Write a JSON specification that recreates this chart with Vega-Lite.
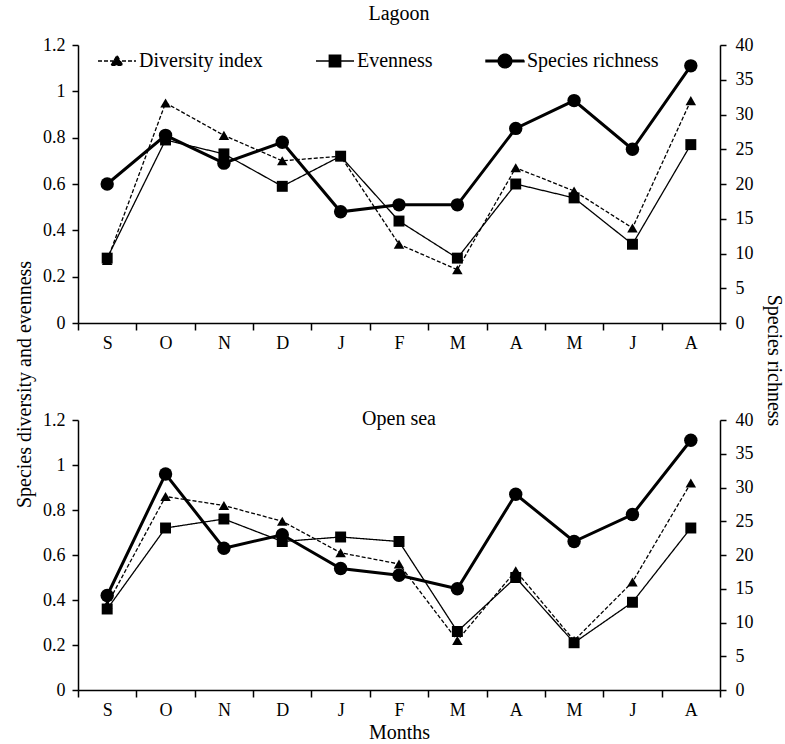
{
  "$schema": "https://vega.github.io/schema/vega-lite/v6.json",
  "background": "white",
  "padding": {"left": 14, "top": 4, "right": 3, "bottom": 0},
  "bounds": "flush",
  "spacing": 97,
  "config": {
    "font": "Liberation Serif",
    "view": {"stroke": null},
    "axis": {
      "grid": false, "domainColor": "black", "tickColor": "black", "labelColor": "black", "titleColor": "black",
      "domainWidth": 1.5, "tickWidth": 1.5, "tickSize": 6,
      "labelFont": "Liberation Serif", "titleFont": "Liberation Serif",
      "labelFontSize": 18, "titleFontSize": 20, "titleFontWeight": "normal", "labelPadding": 7
    },
    "title": {"font": "Liberation Serif", "fontSize": 20, "fontWeight": "normal", "color": "black"},
    "legend": {"labelFont": "Liberation Serif", "labelFontSize": 20, "labelColor": "black"}
  },
  "datasets": {
    "d": [
      {"site": "Lagoon", "month": "Sep", "series": "Diversity index", "value": 0.27},
      {"site": "Lagoon", "month": "Oct", "series": "Diversity index", "value": 0.95},
      {"site": "Lagoon", "month": "Nov", "series": "Diversity index", "value": 0.81},
      {"site": "Lagoon", "month": "Dec", "series": "Diversity index", "value": 0.70},
      {"site": "Lagoon", "month": "Jan", "series": "Diversity index", "value": 0.72},
      {"site": "Lagoon", "month": "Feb", "series": "Diversity index", "value": 0.34},
      {"site": "Lagoon", "month": "Mar", "series": "Diversity index", "value": 0.23},
      {"site": "Lagoon", "month": "Apr", "series": "Diversity index", "value": 0.67},
      {"site": "Lagoon", "month": "May", "series": "Diversity index", "value": 0.57},
      {"site": "Lagoon", "month": "Jun", "series": "Diversity index", "value": 0.41},
      {"site": "Lagoon", "month": "Aug", "series": "Diversity index", "value": 0.96},
      {"site": "Lagoon", "month": "Sep", "series": "Evenness", "value": 0.28},
      {"site": "Lagoon", "month": "Oct", "series": "Evenness", "value": 0.79},
      {"site": "Lagoon", "month": "Nov", "series": "Evenness", "value": 0.73},
      {"site": "Lagoon", "month": "Dec", "series": "Evenness", "value": 0.59},
      {"site": "Lagoon", "month": "Jan", "series": "Evenness", "value": 0.72},
      {"site": "Lagoon", "month": "Feb", "series": "Evenness", "value": 0.44},
      {"site": "Lagoon", "month": "Mar", "series": "Evenness", "value": 0.28},
      {"site": "Lagoon", "month": "Apr", "series": "Evenness", "value": 0.60},
      {"site": "Lagoon", "month": "May", "series": "Evenness", "value": 0.54},
      {"site": "Lagoon", "month": "Jun", "series": "Evenness", "value": 0.34},
      {"site": "Lagoon", "month": "Aug", "series": "Evenness", "value": 0.77},
      {"site": "Lagoon", "month": "Sep", "series": "Species richness", "value": 20},
      {"site": "Lagoon", "month": "Oct", "series": "Species richness", "value": 27},
      {"site": "Lagoon", "month": "Nov", "series": "Species richness", "value": 23},
      {"site": "Lagoon", "month": "Dec", "series": "Species richness", "value": 26},
      {"site": "Lagoon", "month": "Jan", "series": "Species richness", "value": 16},
      {"site": "Lagoon", "month": "Feb", "series": "Species richness", "value": 17},
      {"site": "Lagoon", "month": "Mar", "series": "Species richness", "value": 17},
      {"site": "Lagoon", "month": "Apr", "series": "Species richness", "value": 28},
      {"site": "Lagoon", "month": "May", "series": "Species richness", "value": 32},
      {"site": "Lagoon", "month": "Jun", "series": "Species richness", "value": 25},
      {"site": "Lagoon", "month": "Aug", "series": "Species richness", "value": 37},
      {"site": "Open sea", "month": "Sep", "series": "Diversity index", "value": 0.38},
      {"site": "Open sea", "month": "Oct", "series": "Diversity index", "value": 0.86},
      {"site": "Open sea", "month": "Nov", "series": "Diversity index", "value": 0.82},
      {"site": "Open sea", "month": "Dec", "series": "Diversity index", "value": 0.75},
      {"site": "Open sea", "month": "Jan", "series": "Diversity index", "value": 0.61},
      {"site": "Open sea", "month": "Feb", "series": "Diversity index", "value": 0.56},
      {"site": "Open sea", "month": "Mar", "series": "Diversity index", "value": 0.22},
      {"site": "Open sea", "month": "Apr", "series": "Diversity index", "value": 0.53},
      {"site": "Open sea", "month": "May", "series": "Diversity index", "value": 0.22},
      {"site": "Open sea", "month": "Jun", "series": "Diversity index", "value": 0.48},
      {"site": "Open sea", "month": "Aug", "series": "Diversity index", "value": 0.92},
      {"site": "Open sea", "month": "Sep", "series": "Evenness", "value": 0.36},
      {"site": "Open sea", "month": "Oct", "series": "Evenness", "value": 0.72},
      {"site": "Open sea", "month": "Nov", "series": "Evenness", "value": 0.76},
      {"site": "Open sea", "month": "Dec", "series": "Evenness", "value": 0.66},
      {"site": "Open sea", "month": "Jan", "series": "Evenness", "value": 0.68},
      {"site": "Open sea", "month": "Feb", "series": "Evenness", "value": 0.66},
      {"site": "Open sea", "month": "Mar", "series": "Evenness", "value": 0.26},
      {"site": "Open sea", "month": "Apr", "series": "Evenness", "value": 0.50},
      {"site": "Open sea", "month": "May", "series": "Evenness", "value": 0.21},
      {"site": "Open sea", "month": "Jun", "series": "Evenness", "value": 0.39},
      {"site": "Open sea", "month": "Aug", "series": "Evenness", "value": 0.72},
      {"site": "Open sea", "month": "Sep", "series": "Species richness", "value": 14},
      {"site": "Open sea", "month": "Oct", "series": "Species richness", "value": 32},
      {"site": "Open sea", "month": "Nov", "series": "Species richness", "value": 21},
      {"site": "Open sea", "month": "Dec", "series": "Species richness", "value": 23},
      {"site": "Open sea", "month": "Jan", "series": "Species richness", "value": 18},
      {"site": "Open sea", "month": "Feb", "series": "Species richness", "value": 17},
      {"site": "Open sea", "month": "Mar", "series": "Species richness", "value": 15},
      {"site": "Open sea", "month": "Apr", "series": "Species richness", "value": 29},
      {"site": "Open sea", "month": "May", "series": "Species richness", "value": 22},
      {"site": "Open sea", "month": "Jun", "series": "Species richness", "value": 26},
      {"site": "Open sea", "month": "Aug", "series": "Species richness", "value": 37}
    ]
  },
  "vconcat": [
    {
      "width": 642, "height": 278,
      "title": {"text": "Lagoon", "anchor": "middle", "frame": "group", "offset": 12},
      "data": {"name": "d"},
      "transform": [{"filter": "datum.site === 'Lagoon'"}],
      "encoding": {
        "x": {"field": "month", "type": "ordinal",
          "sort": ["Sep","Oct","Nov","Dec","Jan","Feb","Mar","Apr","May","Jun","Aug"],
          "scale": {"type": "band", "paddingInner": 0, "paddingOuter": 0},
          "axis": {"title": null, "tickBand": "extent", "tickSize": 7, "labelAngle": 0, "labelExpr": "substring(datum.label, 0, 1)", "labelPadding": 4}}
      },
      "layer": [
        {
          "transform": [{"filter": "datum.series !== 'Species richness'"}],
          "encoding": {
            "y": {"field": "value", "type": "quantitative", "scale": {"domain": [0, 1.2]},
              "axis": {"orient": "left", "values": [0, 0.2, 0.4, 0.6, 0.8, 1, 1.2], "format": "~g",
                "title": "Species diversity and evenness", "titleY": 339, "titlePadding": 8}}
          },
          "layer": [
            {"mark": {"type": "line", "color": "black", "strokeWidth": 1.3},
             "encoding": {"strokeDash": {"field": "series", "type": "nominal",
               "scale": {"domain": ["Diversity index", "Evenness", "Species richness"], "range": [[4, 2], [1, 0], [1, 0]]},
               "legend": {"title": null, "orient": "none", "direction": "horizontal", "legendX": 19, "legendY": -4,
                 "symbolSize": 1444, "symbolStrokeWidth": 1.4, "labelOffset": 2, "columnPadding": 50,
                 "encoding": {"symbols": {
                   "shape": {"value": {"expr": "datum.value === 'Diversity index' ? 'M-1,0H1M-0.3,0.22L0,-0.3L0.3,0.22Z' : datum.value === 'Evenness' ? 'M-1,0H1M-0.3,-0.3H0.3V0.3H-0.3Z' : 'M-1,-0.04H1V0.04H-1ZM-0.36,0A0.36,0.36,0,1,0,0.36,0A0.36,0.36,0,1,0,-0.36,0Z'"}},
                   "strokeWidth": {"value": 1.4},
                   "size": {"value": 1444},
                   "fill": {"value": "black"},
                   "stroke": {"value": "black"},
                   "opacity": {"value": 1}
                 }}}}}},
            {"mark": {"type": "point", "filled": true, "color": "black", "opacity": 1},
             "encoding": {
               "shape": {"field": "series", "type": "nominal",
                 "scale": {"domain": ["Diversity index", "Evenness", "Species richness"], "range": ["triangle-up", "square", "circle"]},
                 "legend": null},
               "size": {"condition": {"test": "datum.series === 'Evenness'", "value": 120}, "value": 110}
             }}
          ]
        },
        {
          "transform": [{"filter": "datum.series === 'Species richness'"}],
          "encoding": {
            "y": {"field": "value", "type": "quantitative", "scale": {"domain": [0, 40]},
              "axis": {"orient": "right", "values": [0, 5, 10, 15, 20, 25, 30, 35, 40], "labelPadding": 9,
                "title": "Species richness", "titleY": 315, "titlePadding": 10}}
          },
          "layer": [
            {"mark": {"type": "line", "color": "black", "strokeWidth": 3}},
            {"mark": {"type": "point", "shape": "circle", "filled": true, "color": "black", "opacity": 1, "size": 180}}
          ]
        }
      ],
      "resolve": {"scale": {"y": "independent"}}
    },
    {
      "width": 642, "height": 270,
      "title": {"text": "Open sea", "anchor": "middle", "frame": "group", "offset": -18},
      "data": {"name": "d"},
      "transform": [{"filter": "datum.site === 'Open sea'"}],
      "encoding": {
        "x": {"field": "month", "type": "ordinal",
          "sort": ["Sep","Oct","Nov","Dec","Jan","Feb","Mar","Apr","May","Jun","Aug"],
          "scale": {"type": "band", "paddingInner": 0, "paddingOuter": 0},
          "axis": {"title": "Months", "tickBand": "extent", "tickSize": 7, "labelAngle": 0, "labelExpr": "substring(datum.label, 0, 1)", "labelPadding": 4, "titlePadding": 3}}
      },
      "layer": [
        {
          "transform": [{"filter": "datum.series !== 'Species richness'"}],
          "encoding": {
            "y": {"field": "value", "type": "quantitative", "scale": {"domain": [0, 1.2]},
              "axis": {"orient": "left", "values": [0, 0.2, 0.4, 0.6, 0.8, 1, 1.2], "format": "~g", "title": null}}
          },
          "layer": [
            {"mark": {"type": "line", "color": "black", "strokeWidth": 1.3},
             "encoding": {"strokeDash": {"field": "series", "type": "nominal",
               "scale": {"domain": ["Diversity index", "Evenness"], "range": [[4, 2], [1, 0]]}, "legend": null}}},
            {"mark": {"type": "point", "filled": true, "color": "black", "opacity": 1},
             "encoding": {
               "shape": {"field": "series", "type": "nominal",
                 "scale": {"domain": ["Diversity index", "Evenness", "Species richness"], "range": ["triangle-up", "square", "circle"]},
                 "legend": null},
               "size": {"condition": {"test": "datum.series === 'Evenness'", "value": 120}, "value": 110}
             }}
          ]
        },
        {
          "transform": [{"filter": "datum.series === 'Species richness'"}],
          "encoding": {
            "y": {"field": "value", "type": "quantitative", "scale": {"domain": [0, 40]},
              "axis": {"orient": "right", "values": [0, 5, 10, 15, 20, 25, 30, 35, 40], "labelPadding": 9, "title": null}}
          },
          "layer": [
            {"mark": {"type": "line", "color": "black", "strokeWidth": 3}},
            {"mark": {"type": "point", "shape": "circle", "filled": true, "color": "black", "opacity": 1, "size": 180}}
          ]
        }
      ],
      "resolve": {"scale": {"y": "independent"}}
    }
  ]
}
